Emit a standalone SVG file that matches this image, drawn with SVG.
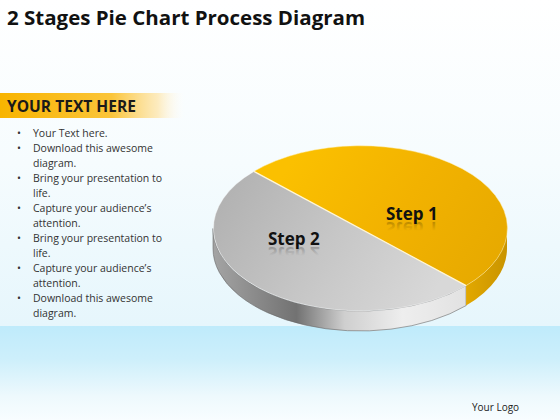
<svg xmlns="http://www.w3.org/2000/svg" width="560" height="420" viewBox="0 0 560 420">
  <defs>
    <linearGradient id="bgTop" x1="0" y1="0" x2="0" y2="1">
      <stop offset="0" stop-color="#ffffff"/>
      <stop offset="0.5" stop-color="#f6fcfe"/>
      <stop offset="1" stop-color="#e6f6fc"/>
    </linearGradient>
    <linearGradient id="bgBand" x1="0" y1="0" x2="0" y2="1">
      <stop offset="0" stop-color="#bfebfb"/>
      <stop offset="0.35" stop-color="#cdeffb"/>
      <stop offset="0.75" stop-color="#eef9fd"/>
      <stop offset="1" stop-color="#f8fdff"/>
    </linearGradient>
    <linearGradient id="hdr" x1="0" y1="0" x2="1" y2="0">
      <stop offset="0" stop-color="#f8b400"/>
      <stop offset="0.6" stop-color="#fbc53a"/>
      <stop offset="0.85" stop-color="#fde7b0" stop-opacity="0.8"/>
      <stop offset="1" stop-color="#ffffff" stop-opacity="0"/>
    </linearGradient>
    <linearGradient id="greyTop" gradientUnits="userSpaceOnUse" x1="230" y1="180" x2="430" y2="300">
      <stop offset="0" stop-color="#b2b2b2"/>
      <stop offset="0.5" stop-color="#c6c6c6"/>
      <stop offset="1" stop-color="#d8d8d8"/>
    </linearGradient>
    <linearGradient id="yellowTop" gradientUnits="userSpaceOnUse" x1="300" y1="150" x2="490" y2="285">
      <stop offset="0" stop-color="#fbc000"/>
      <stop offset="0.5" stop-color="#f2b200"/>
      <stop offset="1" stop-color="#e6a900"/>
    </linearGradient>
    <linearGradient id="greySide" gradientUnits="userSpaceOnUse" x1="213" y1="0" x2="466" y2="0">
      <stop offset="0" stop-color="#a4a4a4"/>
      <stop offset="0.33" stop-color="#727272"/>
      <stop offset="0.52" stop-color="#cfcfcf"/>
      <stop offset="0.75" stop-color="#eeeeee"/>
      <stop offset="1" stop-color="#e2e2e2"/>
    </linearGradient>
    <linearGradient id="yellowSide" gradientUnits="userSpaceOnUse" x1="466" y1="0" x2="507" y2="0">
      <stop offset="0" stop-color="#e2a800"/>
      <stop offset="1" stop-color="#c99400"/>
    </linearGradient>
    <linearGradient id="refl" x1="0" y1="1" x2="0" y2="0">
      <stop offset="0" stop-color="#000" stop-opacity="0.35"/>
      <stop offset="0.6" stop-color="#000" stop-opacity="0"/>
    </linearGradient>
    <style>
      .title{font-family:"Open Sans","Liberation Sans",sans-serif;font-weight:bold;font-size:20px;fill:#111}
      .hdr{font-family:"Open Sans","Liberation Sans",sans-serif;font-weight:bold;font-size:16px;fill:#1a1a1a}
      .bul{font-family:"Open Sans","Liberation Sans",sans-serif;font-size:10.5px;fill:#333}
      .step{font-family:"Open Sans","Liberation Sans",sans-serif;font-weight:bold;font-size:17px;fill:#111}
      .stepr{font-family:"Open Sans","Liberation Sans",sans-serif;font-weight:bold;font-size:17px;fill:url(#refl)}
      .logo{font-family:"Open Sans","Liberation Sans",sans-serif;font-size:10px;fill:#222}
    </style>
  </defs>

  <!-- background -->
  <rect x="0" y="0" width="560" height="326" fill="url(#bgTop)"/>
  <rect x="0" y="326" width="560" height="94" fill="url(#bgBand)"/>

  <!-- title -->
  <text class="title" x="7" y="25" textLength="358" lengthAdjust="spacingAndGlyphs">2 Stages Pie Chart Process Diagram</text>

  <!-- header -->
  <g id="header">
    <rect x="0" y="93" width="186" height="25" fill="url(#hdr)"/>
    <text class="hdr" x="7" y="112" textLength="129" lengthAdjust="spacingAndGlyphs">YOUR TEXT HERE</text>
  </g>

  <!-- bullets -->
  <g id="bullets" class="bul">
    <text x="17" y="137">•</text><text x="33" y="137">Your Text here.</text>
    <text x="17" y="152">•</text><text x="33" y="152">Download this awesome</text>
    <text x="33" y="167">diagram.</text>
    <text x="17" y="182">•</text><text x="33" y="182">Bring your presentation to</text>
    <text x="33" y="197">life.</text>
    <text x="17" y="212">•</text><text x="33" y="212">Capture your audience’s</text>
    <text x="33" y="227">attention.</text>
    <text x="17" y="242">•</text><text x="33" y="242">Bring your presentation to</text>
    <text x="33" y="257">life.</text>
    <text x="17" y="272">•</text><text x="33" y="272">Capture your audience’s</text>
    <text x="33" y="287">attention.</text>
    <text x="17" y="302">•</text><text x="33" y="302">Download this awesome</text>
    <text x="33" y="317">diagram.</text>
  </g>

  <!-- pie -->
  <g id="pie">
    <g id="step2">
      <path d="M213,228.5 A147,82.5 0 0 0 466.1,285.6 L466.1,305.6 A147,82.5 0 0 1 213,248.5 Z" fill="url(#greySide)" stroke="#6a6a6a" stroke-width="0.6"/>
      <path d="M253.9,171.4 A147,82.5 0 0 0 466.1,285.6 Z" fill="url(#greyTop)"/>
      <path d="M253.9,171.4 A147,82.5 0 0 0 466.1,285.6" fill="none" stroke="#ffffff" stroke-opacity="0.5" stroke-width="0.8"/>
    </g>
    <g id="step1">
      <path d="M466.1,285.6 A147,82.5 0 0 0 507,228.5 L507,248.5 A147,82.5 0 0 1 466.1,305.6 Z" fill="url(#yellowSide)"/>
      <path d="M253.9,171.4 A147,82.5 0 1 1 466.1,285.6 Z" fill="url(#yellowTop)"/>
      <path d="M253.9,171.4 A147,82.5 0 1 1 466.1,285.6" fill="none" stroke="#fff3c0" stroke-opacity="0.6" stroke-width="0.8"/>
    </g>
    <line x1="253.9" y1="171.4" x2="466.1" y2="285.6" stroke="#fff6d8" stroke-width="1.2"/>
  </g>

  <!-- labels -->
  <g id="label1">
    <text class="step" x="386" y="220">Step 1</text>
    <text class="stepr" x="386" y="220" transform="translate(0,442) scale(1,-1)">Step 1</text>
  </g>
  <g id="label2">
    <text class="step" x="268" y="245">Step 2</text>
    <text class="stepr" x="268" y="245" transform="translate(0,492) scale(1,-1)">Step 2</text>
  </g>

  <text class="logo" x="472" y="411">Your Logo</text>
</svg>
